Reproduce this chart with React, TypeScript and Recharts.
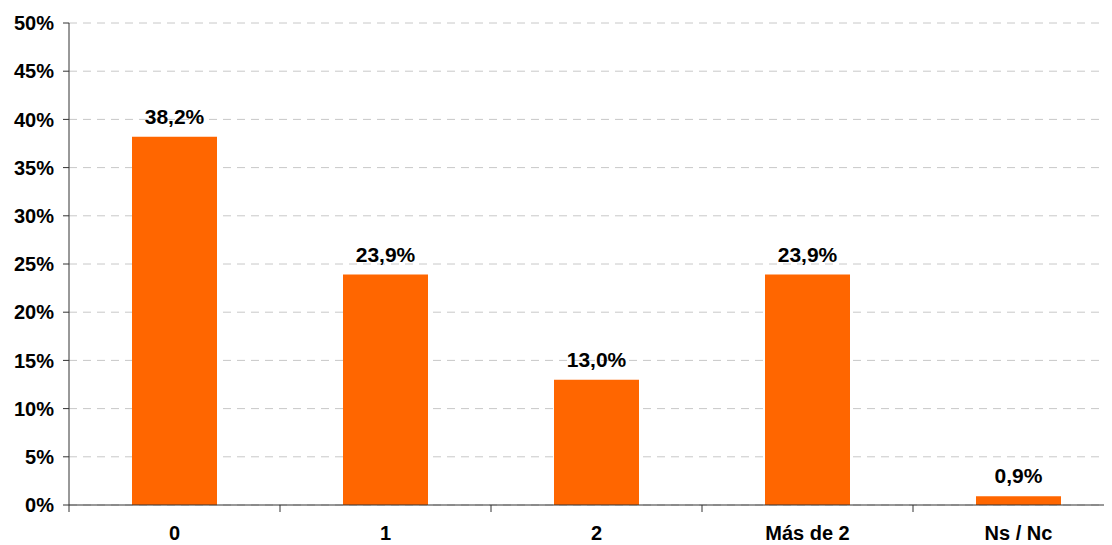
import { BarChart, Bar, XAxis, YAxis, CartesianGrid, LabelList } from "recharts";

const categories = ["0", "1", "2", "Más de 2", "Ns / Nc"];
const values = [38.2, 23.9, 13.0, 23.9, 0.9];
const yTicks = [0, 5, 10, 15, 20, 25, 30, 35, 40, 45, 50];

const data = categories.map((name, i) => ({ name, value: values[i] }));

const FONT = '"Liberation Sans", Arial, sans-serif';
const CHART_W = 1116;
const Y_W = 61;
const BAND = (CHART_W - Y_W) / categories.length;

function CategoryTick(props: any) {
  const { x, y, payload } = props;
  const left = x - BAND / 2;
  return (
    <g>
      <line x1={left} y1={y} x2={left} y2={y + 7} stroke="#333" strokeWidth={1} />
      <text
        x={x}
        y={y + 35}
        textAnchor="middle"
        fontSize={20}
        fontWeight="bold"
        fontFamily={FONT}
        fill="#000"
      >
        {payload.value}
      </text>
    </g>
  );
}

export default function App() {
  return (
    <div style={{ width: 1104, height: 537, overflow: "hidden" }}>
      <BarChart
        width={CHART_W}
        height={537}
        data={data}
        margin={{ top: 15, right: 0, left: 0, bottom: 0 }}
        style={{ fontFamily: FONT }}
      >
        <CartesianGrid
          vertical={false}
          stroke="#c8c8c8"
          strokeDasharray="8 6"
        />
        <XAxis
          dataKey="name"
          height={40}
          axisLine={{ stroke: "#333" }}
          tickLine={false}
          tickSize={0}
          tickMargin={0}
          interval={0}
          tick={<CategoryTick />}
        />
        <YAxis
          width={Y_W}
          domain={[0, 50]}
          ticks={yTicks}
          interval={0}
          axisLine={{ stroke: "#333" }}
          tickLine={{ stroke: "#333" }}
          tickSize={6}
          tickMargin={9}
          tickFormatter={(v: number) => `${v}%`}
          tick={{ fill: "#000", fontSize: 20, fontWeight: "bold" }}
        />
        <Bar dataKey="value" fill="#FF6600" barSize={85} isAnimationActive={false}>
          <LabelList
            dataKey="value"
            position="top"
            offset={13}
            formatter={(v: any) => `${Number(v).toFixed(1).replace(".", ",")}%`}
            style={{ fill: "#000", fontSize: 21, fontWeight: "bold" }}
          />
        </Bar>
      </BarChart>
    </div>
  );
}
